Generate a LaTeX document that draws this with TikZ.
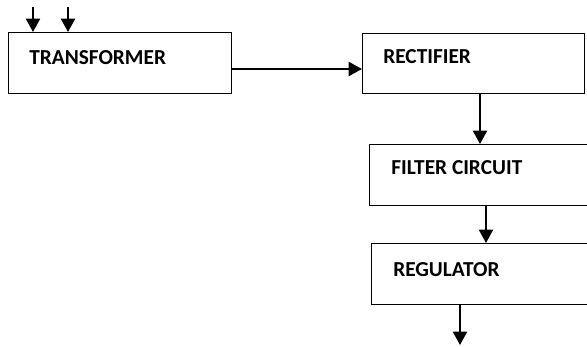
\documentclass[tikz,border=0pt]{standalone}
\usepackage{fontspec}
\setmainfont{Carlito}
\usetikzlibrary{positioning,arrows.meta}

\tikzset{
	block/.style={draw, line width=0.9pt, anchor=north west, minimum height=45.75pt, inner sep=0pt},
	lbl/.style={anchor=west, inner sep=0pt, font=\bfseries\fontsize{16pt}{18pt}\selectfont},
	flow/.style={line width=1.5pt, -{Triangle[length=10pt,width=10.5pt]}},
}

\begin{document}
\begin{tikzpicture}[x=0.75pt, y=-0.75pt]
\useasboundingbox (0,0) rectangle (587,347);
\clip (0,0) rectangle (587,347);
% blocks
\node[block, minimum width=167.25pt] (tr) at (8,32) {};
\node[block, minimum width=166.5pt, minimum height=45pt] (rect) at (362,33) {};
\node[block, minimum width=180pt] (filt) at (369,144) {};
\node[block, minimum width=180pt] (reg) at (371,243) {};
% labels
\node[lbl] (trtxt) at (29,58) {TRANSFORMER};
\node[lbl] (recttxt) at (383,57) {RECTIFIER};
\node[lbl] (filttxt) at (391,168) {FILTER CIRCUIT};
\node[lbl] (regtxt) at (393,270) {REGULATOR};
% free ends
\coordinate (in1) at (33,7);
\coordinate (in2) at (68,7);
\coordinate (h) at (0,69);
\coordinate (v1) at (480,0);
\coordinate (v2) at (486,0);
\coordinate (out) at (460,345);
% connectors
\draw[flow] (in1) -- (in1 |- tr.north);
\draw[flow] (in2) -- (in2 |- tr.north);
\draw[flow] (tr.east |- h) -- (rect.west |- h);
\draw[flow] (v1 |- rect.south) -- (v1 |- filt.north);
\draw[flow] (v2 |- filt.south) -- (v2 |- reg.north);
\draw[flow] (out |- reg.south) -- (out);
\end{tikzpicture}
\end{document}
